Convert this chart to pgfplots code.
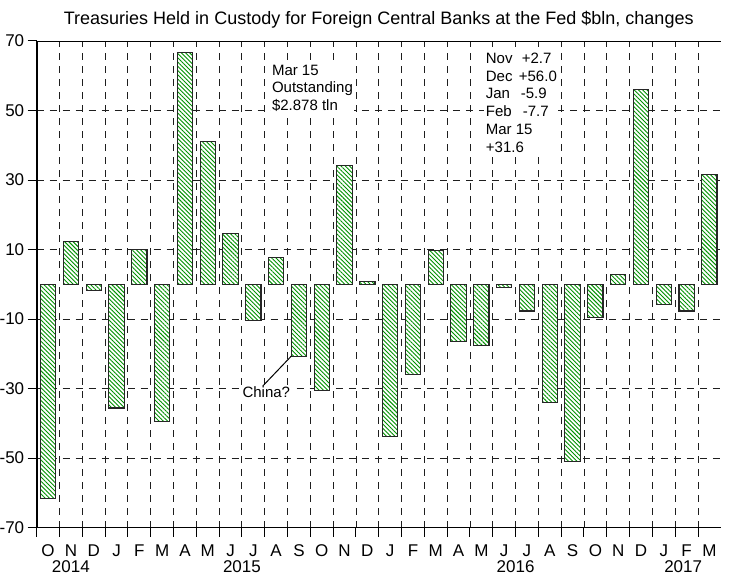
\documentclass[border=0pt]{standalone}
\usepackage{fontspec}
\setmainfont{Liberation Sans}
\usepackage{pgfplots}
\pgfplotsset{compat=1.18}
\usetikzlibrary{patterns,patterns.meta}
\definecolor{hatch}{RGB}{0,145,0}
\definecolor{gridc}{RGB}{30,30,30}

\begin{document}
\begin{tikzpicture}
\begin{axis}[
  scale only axis, width=684pt, height=486.5pt,
  xmin=-0.5, xmax=29.5, ymin=-70, ymax=70,
  axis lines=left,
  axis line style={-, line width=1.6pt, black},
  xtick={-0.5,0.5,...,28.5},
  xticklabels={},
  ytick={-70,-50,...,70},
  tick align=outside,
  major tick length=9pt,
  tick style={black, line width=1pt},
  grid=major,
  grid style={gridc, line width=0.9pt, dash pattern=on 7pt off 6pt},
  /pgf/number format/assume math mode=true,
  tick label style={font=\fontsize{17}{19}\selectfont},
  extra x ticks={0,...,29},
  extra x tick labels={O,N,D,J,F,M,A,M,J,J,A,S,O,N,D,J,F,M,A,M,J,J,A,S,O,N,D,J,F,M},
  extra x tick style={grid=none, major tick length=0pt, tick label style={yshift=-14pt}},
  clip=false,
]
\addplot[ybar, bar width=0.67, draw=black!85, line width=1.1pt, fill=white,
  postaction={pattern={Lines[angle=-45,distance=3pt,line width=0.9pt]}, pattern color=hatch}]
coordinates {
(0,-61.6) (1,12.2) (2,-1.8) (3,-35.6) (4,9.9) (5,-39.4)
(6,66.6) (7,41.0) (8,14.7) (9,-10.5) (10,7.7) (11,-20.7)
(12,-30.5) (13,34.1) (14,0.7) (15,-43.8) (16,-25.9) (17,9.8)
(18,-16.5) (19,-17.5) (20,-0.9) (21,-7.7) (22,-34.0) (23,-50.9)
(24,-9.5) (25,2.7) (26,56.0) (27,-5.9) (28,-7.7) (29,31.6)
};
\draw[black, line width=0.9pt] (rel axis cs:0,1) -- (rel axis cs:1,1);
\node[anchor=north west, align=left, inner sep=1.5pt, fill=white, font=\fontsize{15}{17.7}\selectfont]
  at ([xshift=-1.5pt,yshift=1.5pt]axis cs:9.81,63.2) {Mar 15\\Outstanding\\\$2.878 tln};
\node[anchor=north west, align=left, inner sep=1.5pt, fill=white, font=\fontsize{15}{17.7}\selectfont]
  at ([xshift=-1.5pt,yshift=1.5pt]axis cs:19.19,66.6) {\makebox[36pt][l]{Nov}+2.7\\\makebox[33pt][l]{Dec}+56.0\\\makebox[35pt][l]{Jan}-5.9\\\makebox[37pt][l]{Feb}-7.7\\Mar 15\\+31.6};
\node[inner sep=1.5pt, fill=white, font=\fontsize{15}{17.7}\selectfont] at (axis cs:9.57,-30.9) {China?};
\draw[black, line width=1pt] (axis cs:9.41,-29.3) -- (axis cs:10.66,-20.7);
\node[font=\fontsize{17}{19}\selectfont, inner sep=0pt] at ([yshift=-39.5pt]axis cs:1,-70) {2014};
\node[font=\fontsize{17}{19}\selectfont, inner sep=0pt] at ([yshift=-39.5pt]axis cs:8.5,-70) {2015};
\node[font=\fontsize{17}{19}\selectfont, inner sep=0pt] at ([yshift=-39.5pt]axis cs:20.5,-70) {2016};
\node[font=\fontsize{17}{19}\selectfont, inner sep=0pt] at ([yshift=-39.5pt]axis cs:27.85,-70) {2017};
\end{axis}
\node[anchor=base, font=\fontsize{18}{21}\selectfont, inner sep=0pt] at ([yshift=16pt]current axis.north) {Treasuries Held in Custody for Foreign Central Banks at the Fed \$bln, changes};
\pgfresetboundingbox
\path[use as bounding box] ([xshift=-36.7pt,yshift=-48.4pt]current axis.south west) rectangle ([xshift=9.2pt,yshift=41pt]current axis.north east);
\end{tikzpicture}
\end{document}
